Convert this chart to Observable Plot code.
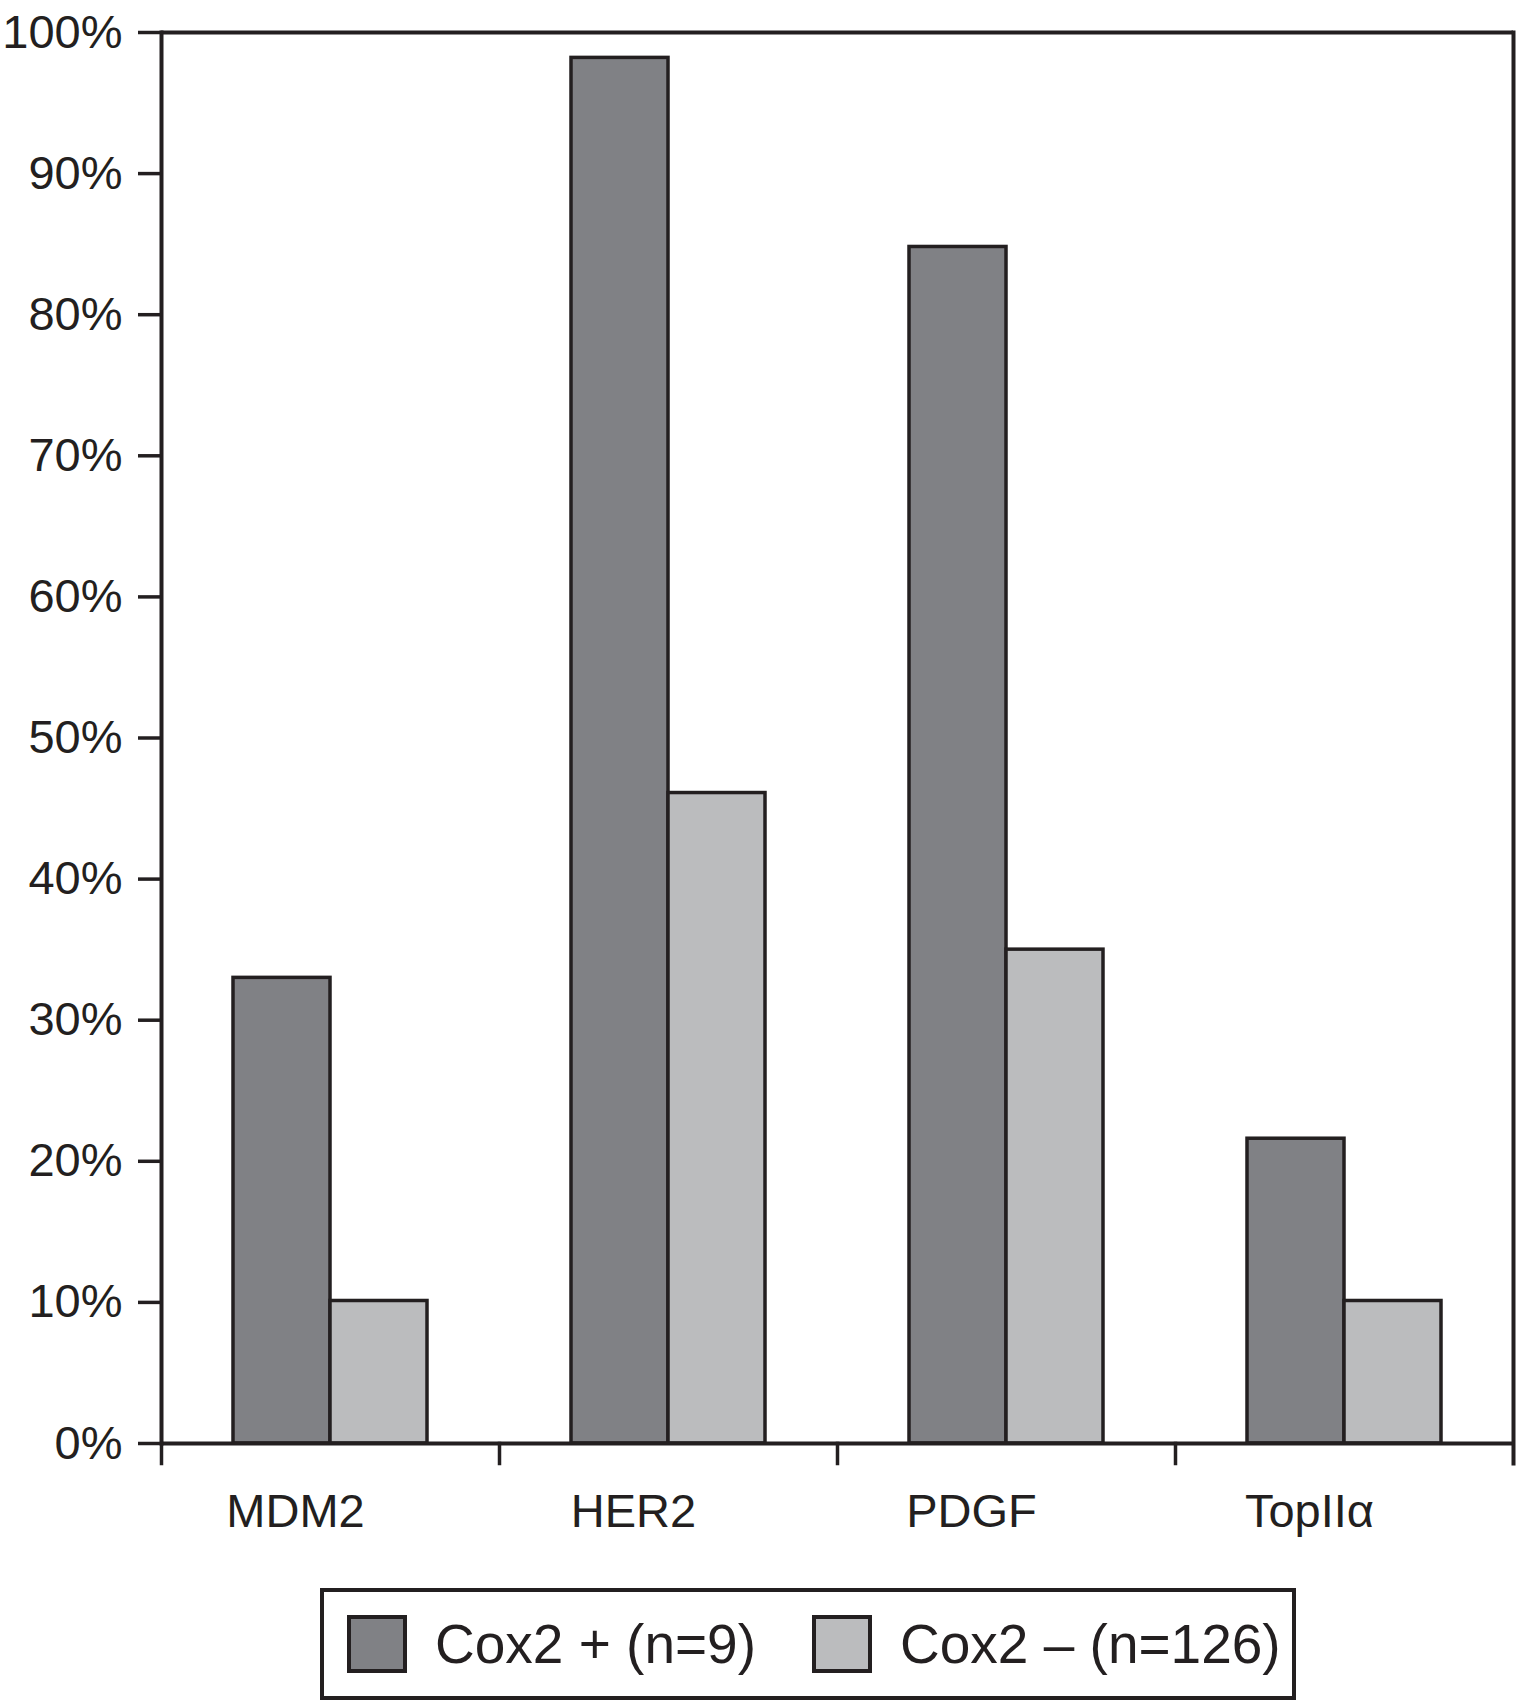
<!DOCTYPE html>
<html>
<head>
<meta charset="utf-8">
<script src="https://cdn.jsdelivr.net/npm/d3@7"></script>
<script src="https://cdn.jsdelivr.net/npm/@observablehq/plot@0.6"></script>
<style>
  body { margin: 0; background: #fff; font-family: "Liberation Sans", Arial, sans-serif; color: #231f20; }
  #legend { margin-left: 320px; margin-top: 28px; width: 968px; height: 104px; border: 4px solid #231f20;
            display: flex; align-items: center; box-sizing: content-box; }
  .sw { width: 52px; height: 50px; border: 4px solid #231f20; flex: none; }
  .lab { font-size: 55px; line-height: 1; white-space: nowrap; }
</style>
</head>
<body>
<div id="chart"></div>
<div id="legend"></div>
<script>
const categories = ["MDM2", "HER2", "PDGF", "TopIIα"];
const series = ["Cox2 + (n=9)", "Cox2 \u2013 (n=126)"];
const cox2Pos = [33, 98.2, 84.8, 21.6];
const cox2Neg = [10.1, 46.1, 35, 10.1];
const yTicks = [0, 10, 20, 30, 40, 50, 60, 70, 80, 90, 100];
const colors = ["#808185", "#bbbcbe"];

const data = categories.flatMap((c, i) => [
  {category: c, series: series[0], value: cox2Pos[i]},
  {category: c, series: series[1], value: cox2Neg[i]}
]);

const ink = "#231f20";
const chart = Plot.plot({
  width: 1517,
  height: 1560,
  marginLeft: 161,
  marginRight: 4,
  marginTop: 32,
  marginBottom: 117,
  style: {fontFamily: "Liberation Sans, Arial, sans-serif", color: ink, background: "#fff"},
  fx: {domain: categories, padding: 0, label: null},
  x: {domain: series, paddingInner: 0, paddingOuter: 0.74, axis: null},
  y: {domain: [0, 100], label: null},
  color: {domain: series, range: colors},
  marks: [
    Plot.barY(data, {fx: "category", x: "series", y: "value", fill: "series", stroke: ink, strokeWidth: 3.5}),
    Plot.ruleY([0, 100], {stroke: ink, strokeWidth: 4}),
    Plot.frame({anchor: "left", facetAnchor: "left", stroke: ink, strokeWidth: 4}),
    Plot.frame({anchor: "right", facetAnchor: "right", insetBottom: -20, stroke: ink, strokeWidth: 4}),
    Plot.frame({anchor: "left", insetTop: 1411, insetBottom: -20, stroke: ink, strokeWidth: 3.5}),
    Plot.axisY({ticks: yTicks, tickFormat: d => d + "%", tickSize: 23, tickPadding: 16, fontSize: 47, strokeWidth: 3.5, label: null}),
    Plot.axisFx({anchor: "bottom", tickSize: 0, tickPadding: 50, fontSize: 47, dx: -35, label: null})
  ]
});
document.getElementById("chart").appendChild(chart);

const legend = document.getElementById("legend");
series.forEach((s, i) => {
  const sw = document.createElement("div");
  sw.className = "sw";
  sw.style.background = colors[i];
  sw.style.marginLeft = i === 0 ? "23px" : "56px";
  sw.style.marginRight = "28px";
  const t = document.createElement("span");
  t.className = "lab";
  t.textContent = s;
  legend.appendChild(sw);
  legend.appendChild(t);
});
</script>
</body>
</html>
